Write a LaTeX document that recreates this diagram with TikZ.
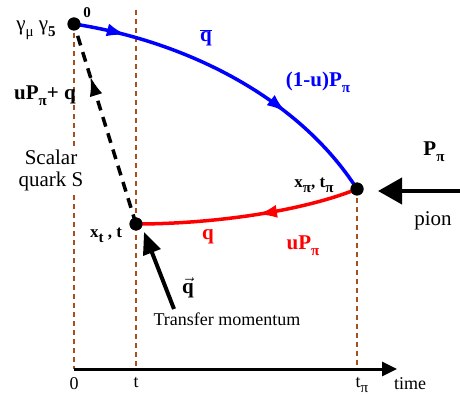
\documentclass[tikz,border=0pt]{standalone}
\usepackage{fontspec}
\setmainfont{Liberation Serif}
\usetikzlibrary{arrows.meta, decorations.markings}

\definecolor{rust}{RGB}{165,80,30}
\newcommand\lsub[1]{\raisebox{-0.6ex}{\fontsize{15}{15}\selectfont #1}}

\tikzset{
  vtx/.style={circle, fill=black, inner sep=0pt, minimum size=13pt},
  tline/.style={rust, line width=1.3pt, dash pattern=on 5pt off 4pt},
  arrowat/.style={postaction={decorate, decoration={markings,
      mark=at position #1 with {\arrow[solid]{Latex[length=20pt,width=13pt]}}}}},
  lbl/.style={font=\fontsize{21}{24}\selectfont},
  blbl/.style={font=\fontsize{21}{24}\selectfont\bfseries},
  slbl/.style={font=\fontsize{18}{20}\selectfont}
}

\begin{document}
\begin{tikzpicture}[x=1pt, y=-1pt, line width=3.5pt]
  \useasboundingbox (0,0) rectangle (460,395);
  % temps sur l'axe
  \coordinate (a0) at (74,369);
  \coordinate (at) at (136,369);
  \coordinate (api) at (357,369);
  \coordinate (aend) at (397,369);
  % sommets
  \node[vtx] (v0) at (74,24) {};
  \node[vtx] (vt) at (136,224) {};
  \node[vtx] (vpi) at (357,189) {};
  \coordinate (ttop) at (136,10);

  % lignes de temps
  \draw[tline] (v0.center) -- (a0);
  \draw[tline] (ttop) -- (at);
  \draw[tline] (vpi.center) -- (api);
  \draw[line width=3pt, -{Triangle[length=15pt,width=14pt]}] (a0) -- (aend);

  % propagateurs
  \draw[blue, arrowat=0.16, arrowat=0.69] (v0.center) .. controls (190,42) and (300,100) .. (vpi.center);
  \draw[red, arrowat=0.46] (vpi.center) .. controls (300,212) and (210,224) .. (vt.center);
  \draw[dash pattern=on 10pt off 7pt, arrowat=0.74] (vt.center) -- (v0.center);
  \node[vtx] at (v0) {}; \node[vtx] at (vt) {}; \node[vtx] at (vpi) {};

  % impulsions externes
  \coordinate (pin) at (460,191);
  \coordinate (pout) at (378,191);
  \draw[line width=4pt, -{Triangle[length=24pt,width=26pt]}] (pin) -- (pout);
  \coordinate (qin) at (174,309);
  \coordinate (qout) at (144,232);
  \draw[line width=4pt, -{Triangle[length=22pt,width=18pt]}] (qin) -- (qout);

  % etiquettes
  \node[lbl] (gam) at (36,30) {γ\lsub{μ} γ\lsub{\bfseries 5}};
  \node[blbl, font=\fontsize{15}{15}\selectfont\bfseries] (l0) at (87,13) {0};
  \node[blbl] (luq) at (45,96) {uP\lsub{π}+ q};
  \node[lbl, align=center, fill=white, inner sep=1pt] (lsc) at (51,170) {Scalar\\[-2pt]quark S};
  \node[blbl, text=blue] (lqb) at (206,38) {$\overline{\mbox{q}}$};
  \node[blbl, text=blue] (l1u) at (318,82) {(1-u)P\lsub{π}};
  \node[blbl] (lPpi) at (434,152) {P\lsub{π}};
  \node[lbl] (lpion) at (433,221) {pion};
  \node[slbl, font=\fontsize{17}{17}\selectfont\bfseries] (lxpi) at (314,185) {x\lsub{π}, t\lsub{π}};
  \node[slbl, font=\fontsize{17}{17}\selectfont\bfseries] (lxt) at (106,235) {x\lsub{t} , t};
  \node[blbl, text=red] (lq) at (208,237) {q};
  \node[blbl, text=red] (luP) at (303,246) {uP\lsub{π}};
  \node[blbl] (lqv) at (188,288) {$\vec{\mbox{q}}$};
  \node[slbl] (ltr) at (227,319) {Transfer momentum};
  \node[slbl, below=3pt] (t0) at (a0) {0};
  \node[slbl, below=3pt] (tt) at (at) {t};
  \node[slbl, below=3pt] (tpi) at (362,369) {t\lsub{π}};
  \node[slbl, below=3pt] (ttime) at (410,369) {time};
\end{tikzpicture}
\end{document}
